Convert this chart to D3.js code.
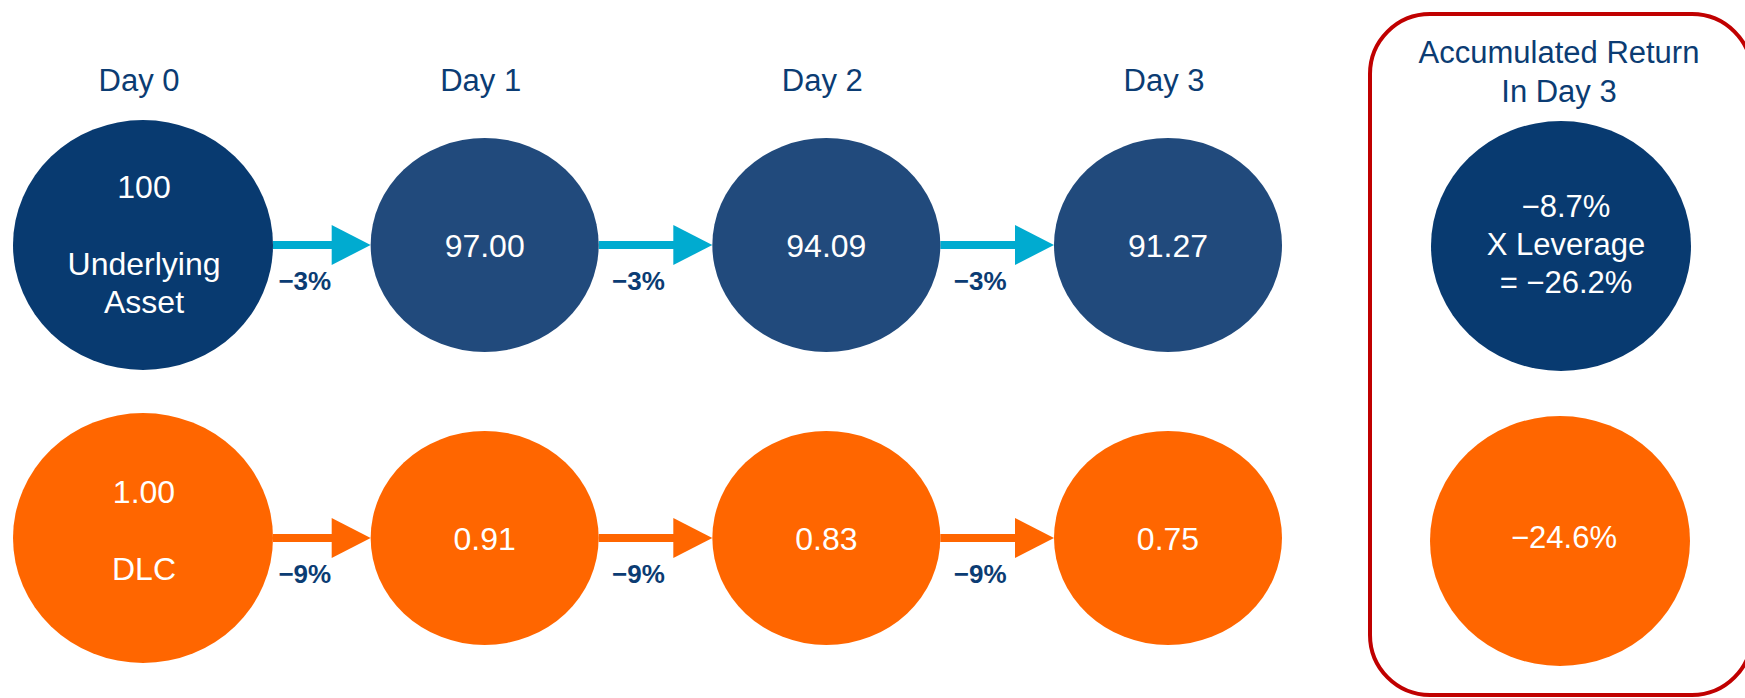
<!DOCTYPE html>
<html>
  <head>
    <meta charset="UTF-8" />
    <title>Underlying Asset vs DLC</title>
    <style>
      body { margin: 0; background: #fff; }
      svg text { font-family: 'Liberation Sans', Arial, sans-serif; }
    </style>
  </head>
  <body>
    <svg width="1745" height="698"></svg>
    <script src="https://cdnjs.cloudflare.com/ajax/libs/d3/7.8.5/d3.min.js"></script>
    <script>
      // data
      const days = ['Day 0', 'Day 1', 'Day 2', 'Day 3'];
      const rows = ['Underlying Asset', 'DLC'];
      const underlyingValues = ['100', '97.00', '94.09', '91.27'];
      const dlcValues = ['1.00', '0.91', '0.83', '0.75'];
      const underlyingChanges = ['\u22123%', '\u22123%', '\u22123%'];
      const dlcChanges = ['\u22129%', '\u22129%', '\u22129%'];
      const accumTitle = ['Accumulated Return', 'In Day 3'];
      const accumUnderlying = ['\u22128.7%', 'X Leverage', '= \u221226.2%'];
      const accumDlc = ['\u221224.6%'];

      const svg = d3.select('svg');

      const navy = '#083a70';
      const blue = '#214a7c';
      const orange = '#ff6600';
      const cyan = '#00abd0';
      const labelColor = '#0b3c73';
      const red = '#c00000';

      const xScale = d3.scalePoint().domain(days).range([143, 1168]);
      const yScale = d3.scalePoint().domain(rows).range([245, 538]);
      const accumX = 1561;

      const big = { rx: 130, ry: 125 };
      const small = { rx: 114, ry: 107 };
      const sizeOf = (i) => (i === 0 ? big : small);

      const rowData = [
        { row: rows[0], values: underlyingValues, changes: underlyingChanges, first: navy, rest: blue, arrow: cyan },
        { row: rows[1], values: dlcValues, changes: dlcChanges, first: orange, rest: orange, arrow: orange },
      ];

      // day labels
      svg.selectAll('.day-label')
        .data(days)
        .enter()
        .append('text')
        .attr('class', 'day-label')
        .attr('x', (d) => xScale(d) - 4)
        .attr('y', 91)
        .attr('text-anchor', 'middle')
        .attr('fill', labelColor)
        .attr('font-size', 31)
        .text((d) => d);

      rowData.forEach((r) => {
        const cy = yScale(r.row);
        const g = svg.append('g');

        // arrows between circles
        const arrowG = g.append('g');
        days.slice(0, -1).forEach((d, i) => {
          const x0 = xScale(d) + sizeOf(i).rx;
          const x1 = xScale(days[i + 1]) - sizeOf(i + 1).rx;
          const headLen = 39;
          const headH = 20;
          arrowG.append('rect')
            .attr('x', x0)
            .attr('y', cy - 4)
            .attr('width', x1 - headLen - x0 + 1)
            .attr('height', 8)
            .attr('fill', r.arrow);
          arrowG.append('path')
            .attr('d', `M${x1 - headLen},${cy - headH}L${x1},${cy}L${x1 - headLen},${cy + headH}Z`)
            .attr('fill', r.arrow);
          arrowG.append('text')
            .attr('x', (x0 + x1) / 2 - 17)
            .attr('y', cy + 45)
            .attr('text-anchor', 'middle')
            .attr('fill', labelColor)
            .attr('font-size', 26)
            .attr('font-weight', 'bold')
            .text(r.changes[i]);
        });

        g.selectAll('ellipse')
          .data(days)
          .enter()
          .append('ellipse')
          .attr('cx', (d) => xScale(d))
          .attr('cy', cy)
          .attr('rx', (d, i) => sizeOf(i).rx)
          .attr('ry', (d, i) => sizeOf(i).ry)
          .attr('fill', (d, i) => (i === 0 ? r.first : r.rest));

        // first circle: value and row name
        const firstX = xScale(days[0]) + 1;
        const firstLines = r.row === 'DLC' ? [r.values[0], 'DLC'] : [r.values[0], 'Underlying', 'Asset'];
        const offsets = r.row === 'DLC' ? [-35, 42] : [-47, 30, 68];
        firstLines.forEach((t, k) => {
          g.append('text')
            .attr('x', firstX)
            .attr('y', cy + offsets[k])
            .attr('text-anchor', 'middle')
            .attr('fill', '#fff')
            .attr('font-size', 32)
            .text(t);
        });

        g.selectAll('.val')
          .data(r.values.slice(1))
          .enter()
          .append('text')
          .attr('class', 'val')
          .attr('x', (d, i) => xScale(days[i + 1]))
          .attr('y', cy + 12)
          .attr('text-anchor', 'middle')
          .attr('fill', '#fff')
          .attr('font-size', 32)
          .text((d) => d);
      });

      // accumulated return box
      svg.append('rect')
        .attr('x', 1370)
        .attr('y', 14)
        .attr('width', 382)
        .attr('height', 681)
        .attr('rx', 60)
        .attr('ry', 60)
        .attr('fill', 'none')
        .attr('stroke', red)
        .attr('stroke-width', 4);

      svg.selectAll('.accum-title')
        .data(accumTitle)
        .enter()
        .append('text')
        .attr('class', 'accum-title')
        .attr('x', 1559)
        .attr('y', (d, i) => 63 + i * 39)
        .attr('text-anchor', 'middle')
        .attr('fill', labelColor)
        .attr('font-size', 31)
        .text((d) => d);

      svg.append('ellipse')
        .attr('cx', accumX)
        .attr('cy', yScale(rows[0]) + 1)
        .attr('rx', 130)
        .attr('ry', 125)
        .attr('fill', navy);

      svg.append('ellipse')
        .attr('cx', accumX - 1)
        .attr('cy', yScale(rows[1]) + 3)
        .attr('rx', 130)
        .attr('ry', 125)
        .attr('fill', orange);

      svg.selectAll('.accum-u')
        .data(accumUnderlying)
        .enter()
        .append('text')
        .attr('class', 'accum-u')
        .attr('x', 1566)
        .attr('y', (d, i) => 217 + i * 38)
        .attr('text-anchor', 'middle')
        .attr('fill', '#fff')
        .attr('font-size', 31)
        .text((d) => d);

      svg.selectAll('.accum-d')
        .data(accumDlc)
        .enter()
        .append('text')
        .attr('class', 'accum-d')
        .attr('x', 1564)
        .attr('y', yScale(rows[1]) + 10)
        .attr('text-anchor', 'middle')
        .attr('fill', '#fff')
        .attr('font-size', 31)
        .text((d) => d);
    </script>
  </body>
</html>
